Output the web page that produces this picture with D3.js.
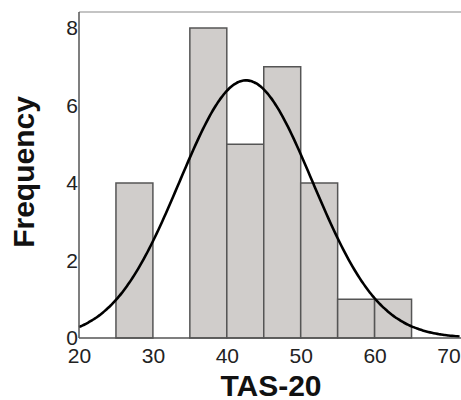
<!DOCTYPE html>
<html><head><meta charset="utf-8">
<script src="https://cdn.jsdelivr.net/npm/d3@7"></script>
<style>body{margin:0;background:#fff}svg{display:block}text{font-family:"Liberation Sans",Arial,sans-serif}</style>
</head><body>
<script>
const binStarts = [25, 30, 35, 40, 45, 50, 55, 60];
const binWidth = 5;
const frequencies = [4, 0, 8, 5, 7, 4, 1, 1];
const xTicks = [20, 30, 40, 50, 60, 70];
const yTicks = [0, 2, 4, 6, 8];
const fitMean = 42.6;
const fitSD = 9.0;

const W = 461, H = 400;
const svg = d3.select("body").append("svg").attr("width", W).attr("height", H);
const x = d3.scaleLinear().domain([20, 70]).range([79, 448.5]);
const y = d3.scaleLinear().domain([0, 8]).range([338, 28]);
const topY = 12;

// frame
svg.append("line").attr("x1", 79).attr("x2", W).attr("y1", topY).attr("y2", topY)
  .attr("stroke", "#b0b0b0").attr("stroke-width", 1.5);

// bars
const N = d3.sum(frequencies);
svg.append("g").selectAll("rect").data(binStarts.map((s, i) => ({s, f: frequencies[i]})).filter(d => d.f > 0))
  .join("rect")
  .attr("x", d => x(d.s)).attr("width", d => x(d.s + binWidth) - x(d.s))
  .attr("y", d => y(d.f)).attr("height", d => y(0) - y(d.f))
  .attr("fill", "#d0cdcb").attr("stroke", "#555").attr("stroke-width", 1.5);

// normal curve fitted to the histogram (mean / SD)
const xs = d3.range(x.invert(79), x.invert(W) + 0.01, 0.25);
const dens = v => N * binWidth * Math.exp(-0.5 * ((v - fitMean) / fitSD) ** 2) / (fitSD * Math.sqrt(2 * Math.PI));
svg.append("path").datum(xs)
  .attr("d", d3.line().x(v => x(v)).y(v => y(dens(v))).curve(d3.curveBasis))
  .attr("fill", "none").attr("stroke", "#000").attr("stroke-width", 2.6);

// axes
const xAxis = svg.append("g").attr("transform", "translate(0,338)")
  .call(d3.axisBottom(x).tickValues(xTicks).tickSize(0).tickPadding(10).tickFormat(d3.format("d")));
xAxis.select(".domain").remove();
xAxis.selectAll("text").attr("font-size", 21).attr("fill", "#222").attr("font-family", "Liberation Sans, Arial, sans-serif");
svg.append("line").attr("x1", 79).attr("x2", W).attr("y1", 338).attr("y2", 338)
  .attr("stroke", "#555").attr("stroke-width", 1.5);

const yAxis = svg.append("g").attr("transform", "translate(79,0)")
  .call(d3.axisLeft(y).tickValues(yTicks).tickSize(0).tickPadding(1).tickFormat(d3.format("d")));
yAxis.select(".domain").remove();
yAxis.selectAll("text").attr("font-size", 21).attr("fill", "#222").attr("font-family", "Liberation Sans, Arial, sans-serif");
svg.append("line").attr("x1", 79).attr("x2", 79).attr("y1", topY).attr("y2", 338)
  .attr("stroke", "#555").attr("stroke-width", 1.5);

// titles
svg.append("text").attr("x", 271).attr("y", 396).attr("text-anchor", "middle")
  .attr("font-size", 30).attr("font-weight", "bold").attr("fill", "#111").text("TAS-20");
svg.append("text").attr("transform", "translate(34,172) rotate(-90)").attr("text-anchor", "middle")
  .attr("font-size", 30).attr("font-weight", "bold").attr("fill", "#111").text("Frequency");
</script>
</body></html>
